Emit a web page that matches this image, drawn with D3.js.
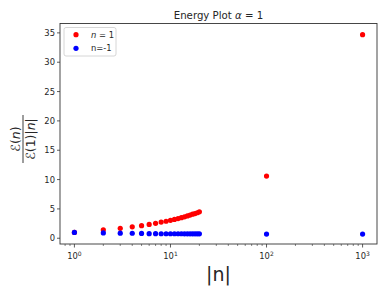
<!DOCTYPE html>
<html><head><meta charset="utf-8">
<script src="https://cdn.jsdelivr.net/npm/d3@7"></script>
<style>body{margin:0;background:#fff}svg{display:block}text{font-family:"DejaVu Sans",sans-serif;fill:#262626}</style>
</head><body><svg id="c" width="388" height="291"></svg>
<script>
const nVals = [1,2,3,4,5,6,7,8,9,10,11,12,13,14,15,16,17,18,19,20,100,1000];
const redVals = [1.0,1.45,1.7,1.95,2.15,2.35,2.55,2.75,2.9,3.05,3.2,3.35,3.5,3.65,3.8,3.95,4.1,4.2,4.35,4.5,10.6,34.7];
const blueVals = [1.0,0.9,0.87,0.85,0.83,0.78,0.78,0.77,0.77,0.77,0.77,0.77,0.77,0.76,0.76,0.76,0.76,0.76,0.76,0.76,0.72,0.71];
const yTicks = [0,5,10,15,20,25,30,35];
const xTicks = [1,10,100,1000];
const legendLabels = ["n = 1","n=-1"];

const svg = d3.select("#c");
const L=60,R=377,T=23.5,B=244;
const x = d3.scaleLog().domain([Math.pow(10,-0.15),Math.pow(10,3.15)]).range([L,R]);
const y = d3.scaleLinear().domain([-0.98,36.6]).range([B,T]);

// points
const g = svg.append("g");
g.selectAll(".r").data(nVals).enter().append("circle")
  .attr("cx",(d)=>x(d)).attr("cy",(d,i)=>y(redVals[i])).attr("r",2.6).attr("fill","#ff0000");
g.selectAll(".b").data(nVals).enter().append("circle")
  .attr("cx",(d)=>x(d)).attr("cy",(d,i)=>y(blueVals[i])).attr("r",2.6).attr("fill","#0000ff");

// frame
svg.append("rect").attr("x",L).attr("y",T).attr("width",R-L).attr("height",B-T)
  .attr("fill","none").attr("stroke","#333").attr("stroke-width",0.9);

// y axis
yTicks.forEach(v=>{
  svg.append("line").attr("x1",L-3).attr("x2",L).attr("y1",y(v)).attr("y2",y(v)).attr("stroke","#333").attr("stroke-width",0.8);
  svg.append("text").attr("x",L-5).attr("y",y(v)+3).attr("text-anchor","end").attr("font-size",8.4).text(v);
});
// x axis major
xTicks.forEach(v=>{
  svg.append("line").attr("x1",x(v)).attr("x2",x(v)).attr("y1",B).attr("y2",B+3.5).attr("stroke","#333").attr("stroke-width",0.8);
  const t = svg.append("text").attr("x",x(v)).attr("y",B+15).attr("text-anchor","middle").attr("font-size",8.4);
  t.append("tspan").text("10");
  t.append("tspan").attr("dy",-3.5).attr("font-size",6).text(Math.round(Math.log10(v)));
});
// minor ticks
const [d0,d1] = x.domain();
for (let e=-1;e<=3;e++){
  for (let k=2;k<=9;k++){
    const v = k*Math.pow(10,e);
    if (v>=d0 && v<=d1){
      svg.append("line").attr("x1",x(v)).attr("x2",x(v)).attr("y1",B).attr("y2",B+2).attr("stroke","#333").attr("stroke-width",0.6);
    }
  }
}

// title
const tt = svg.append("text").attr("x",(L+R)/2).attr("y",18.5).attr("text-anchor","middle").attr("font-size",10.2);
tt.append("tspan").text("Energy Plot ");
tt.append("tspan").attr("font-style","italic").text("α");
tt.append("tspan").text(" = 1");

// x label
svg.append("text").attr("x",(L+R)/2).attr("y",281).attr("text-anchor","middle").attr("font-size",19).text("|n|");

// y label (fraction)
const yl = svg.append("g").attr("transform",`translate(23,139) rotate(-90)`);
const num = yl.append("text").attr("x",0).attr("y",-3.5).attr("text-anchor","middle").attr("font-size",12.5).attr("font-family","DejaVu Serif");
num.append("tspan").attr("font-style","italic").text("ℰ");
num.append("tspan").text("(");
num.append("tspan").attr("font-style","italic").text("n");
num.append("tspan").text(")");
yl.append("line").attr("x1",-24).attr("x2",24).attr("y1",0).attr("y2",0).attr("stroke","#262626").attr("stroke-width",0.9);
const den = yl.append("text").attr("x",0).attr("y",12).attr("text-anchor","middle").attr("font-size",12.5).attr("font-family","DejaVu Serif");
den.append("tspan").attr("font-style","italic").text("ℰ");
den.append("tspan").text("(1)|");
den.append("tspan").attr("font-style","italic").text("n");
den.append("tspan").text("|");

// legend
svg.append("rect").attr("x",64).attr("y",27.5).attr("width",52).attr("height",28.5).attr("rx",2)
  .attr("fill","#fff").attr("fill-opacity",0.8).attr("stroke","#ccc").attr("stroke-width",0.8);
const lc = ["#ff0000","#0000ff"];
legendLabels.forEach((lab,i)=>{
  const yy = 34.7 + i*13.6;
  svg.append("circle").attr("cx",76).attr("cy",yy).attr("r",2.6).attr("fill",lc[i]);
  const t = svg.append("text").attr("x",91).attr("y",yy+3).attr("font-size",8.4);
  if (i===0){
    t.append("tspan").attr("font-style","italic").text("n");
    t.append("tspan").text(" = 1");
  } else t.text(lab);
});
</script></body></html>
